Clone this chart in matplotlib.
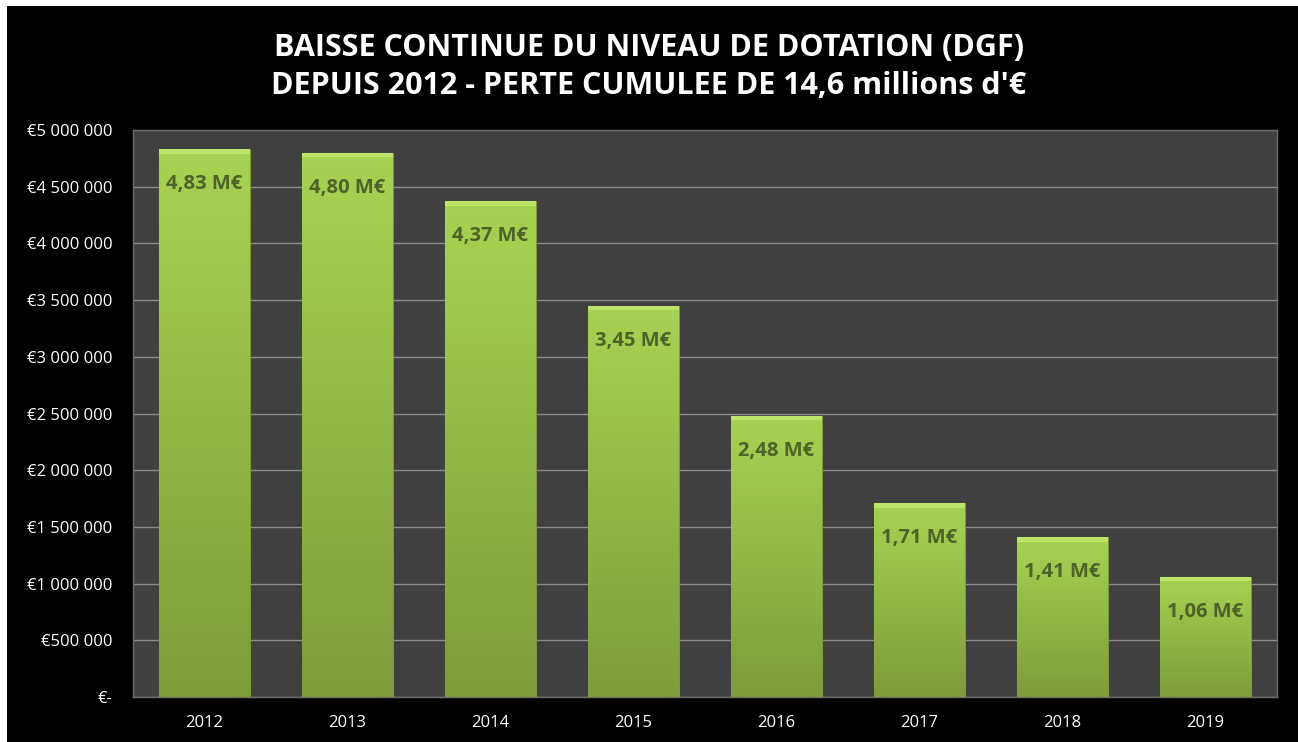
import numpy as np
import matplotlib
matplotlib.use('Agg')
import matplotlib.pyplot as plt
from matplotlib.ticker import FuncFormatter, MultipleLocator
from matplotlib.patches import Rectangle

years = ['2012', '2013', '2014', '2015', '2016', '2017', '2018', '2019']
dotation = [4830000, 4800000, 4370000, 3450000, 2480000, 1710000, 1410000, 1060000]
labels = ['4,83 M€', '4,80 M€', '4,37 M€', '3,45 M€', '2,48 M€', '1,71 M€', '1,41 M€', '1,06 M€']

title = "BAISSE CONTINUE DU NIVEAU DE DOTATION (DGF)\nDEPUIS 2012 - PERTE CUMULEE DE 14,6 millions d'€"

plt.rcParams['font.family'] = ['Open Sans', 'DejaVu Sans']

fig = plt.figure(figsize=(12.98, 7.42), dpi=100)
fig.patch.set_facecolor('white')
# black slide background (thin white border top/left like the screenshot)
fig.patches.append(Rectangle((7 / 1298, 0), 1, 736 / 742, transform=fig.transFigure,
                             facecolor='black', edgecolor='none', zorder=-5))

ax = fig.add_axes([133 / 1298, 1 - 697 / 742, (1277 - 133) / 1298, (697 - 130) / 742])
ax.set_facecolor('#404040')

x = np.arange(len(years))
bars = ax.bar(x, dotation, width=0.63, color='#97bf48', edgecolor='#7a9a35', linewidth=0.8, zorder=3)

# vertical gradient inside each bar
grad = np.linspace(0, 1, 256).reshape(-1, 1)
cmap = matplotlib.colors.LinearSegmentedColormap.from_list('g', ['#7e9c3a', '#a8d253'])
for b in bars:
    x0, w, h = b.get_x(), b.get_width(), b.get_height()
    im = ax.imshow(grad, extent=[x0, x0 + w, 0, h], origin='lower', cmap=cmap,
                   aspect='auto', zorder=3.5)
    im.set_clip_path(b)
    # light bevel on top
    ax.add_patch(Rectangle((x0, h - 40000), w, 40000, facecolor='#bde36a',
                           edgecolor='none', zorder=3.6))

for i, b in enumerate(bars):
    ax.annotate(labels[i], (b.get_x() + b.get_width() / 2, b.get_height()),
                xytext=(0, -35), textcoords='offset pixels',
                ha='center', va='center', fontsize=14.5, fontweight='bold',
                color='#4f6228', zorder=5)

ax.set_xlim(-0.5, len(years) - 0.5)
ax.set_ylim(0, 5000000)
ax.yaxis.set_major_locator(MultipleLocator(500000))


def eur(v, pos):
    if v == 0:
        return '€-'
    return '€' + format(int(v), ',').replace(',', ' ')


ax.yaxis.set_major_formatter(FuncFormatter(eur))
ax.set_xticks(x)
ax.set_xticklabels(years)
ax.tick_params(colors='white', labelsize=12, length=0, pad=13)
ax.tick_params(axis='y', pad=15)
ax.grid(axis='y', color='#8c8c8c', linewidth=1, zorder=1)
ax.set_axisbelow(True)
for s in ax.spines.values():
    s.set_color('#6e6e6e')
    s.set_linewidth(1)

fig.text(0.5, 1 - 67 / 742, title, ha='center', va='center', color='white',
         fontsize=22, fontweight='bold', linespacing=1.35)

fig.savefig('out.png', dpi=100, facecolor=fig.get_facecolor())
